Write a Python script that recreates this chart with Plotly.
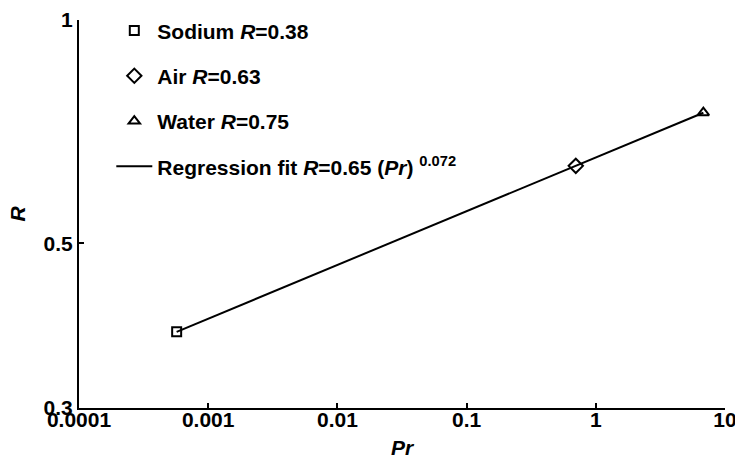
import plotly.graph_objects as go

# Data
fluids = ["Sodium", "Air", "Water"]
pr_values = [0.00057, 0.70, 6.8]
r_values = [0.38, 0.636, 0.75]
symbols = ["square-open", "diamond-open", "triangle-up-open"]
marker_sizes = [9, 11, 10]
legend_labels = ["Sodium <i>R</i>=0.38", "Air <i>R</i>=0.63", "Water <i>R</i>=0.75"]

fit_pr = [0.00057, 6.8]
fit_r = [0.38, 0.75]
fit_label = "Regression fit <i>R</i>=0.65 (<i>Pr</i>) <sup>0.072</sup>"

x_tickvals = [0.0001, 0.001, 0.01, 0.1, 1, 10]
x_ticktext = ["0.0001", "0.001", "0.01", "0.1", "1", "10"]
y_tickvals = [0.3, 0.5, 1]
y_ticktext = ["0.3", "0.5", "1"]

FONT = "Liberation Sans, Arial, sans-serif"

fig = go.Figure()

fig.add_trace(go.Scatter(
    x=fit_pr, y=fit_r, mode="lines",
    line=dict(color="black", width=2),
    showlegend=False, hoverinfo="skip",
))

for i, name in enumerate(fluids):
    fig.add_trace(go.Scatter(
        x=[pr_values[i]], y=[r_values[i]], mode="markers",
        marker=dict(symbol=symbols[i], size=marker_sizes[i], color="black",
                    line=dict(color="black", width=2)),
        name=legend_labels[i], legendgroup=name, legendrank=i + 1,
        cliponaxis=False,
    ))

fig.add_trace(go.Scatter(
    x=[None], y=[None], mode="lines",
    line=dict(color="black", width=2),
    name=fit_label, legendgroup="fit", legendrank=4,
))

fig.update_layout(
    width=735, height=459,
    margin=dict(l=79, r=10, t=20, b=51),
    paper_bgcolor="white", plot_bgcolor="white",
    font=dict(family=FONT, size=21, color="black", weight="bold"),
    legend=dict(
        x=0.05, y=1.025, xanchor="left", yanchor="top",
        bgcolor="rgba(0,0,0,0)", tracegroupgap=15,
        font=dict(size=21, family=FONT, weight="bold"),
        itemwidth=36,
    ),
    xaxis=dict(
        type="log", range=[-4, 1], automargin=False,
        tickvals=x_tickvals, ticktext=x_ticktext,
        ticks="inside", ticklen=5, tickwidth=1.5, tickcolor="black",
        showline=True, linecolor="black", linewidth=2,
        showgrid=False, zeroline=False,
        ticklabeloverflow="allow", ticklabelstandoff=-8,
        tickfont=dict(size=21, weight="bold"),
        title=dict(text="<i>Pr</i>", font=dict(size=21, weight="bold"), standoff=12),
    ),
    yaxis=dict(
        type="log", range=[-0.5229, 0], automargin=False,
        tickvals=y_tickvals, ticktext=y_ticktext,
        ticks="inside", ticklen=5, tickwidth=1.5, tickcolor="black",
        showline=True, linecolor="black", linewidth=2,
        showgrid=False, zeroline=False,
        tickfont=dict(size=21, weight="bold"),
        title=dict(text="<i>R</i>", font=dict(size=21, weight="bold"), standoff=12),
    ),
)

fig.write_html("out.html")
